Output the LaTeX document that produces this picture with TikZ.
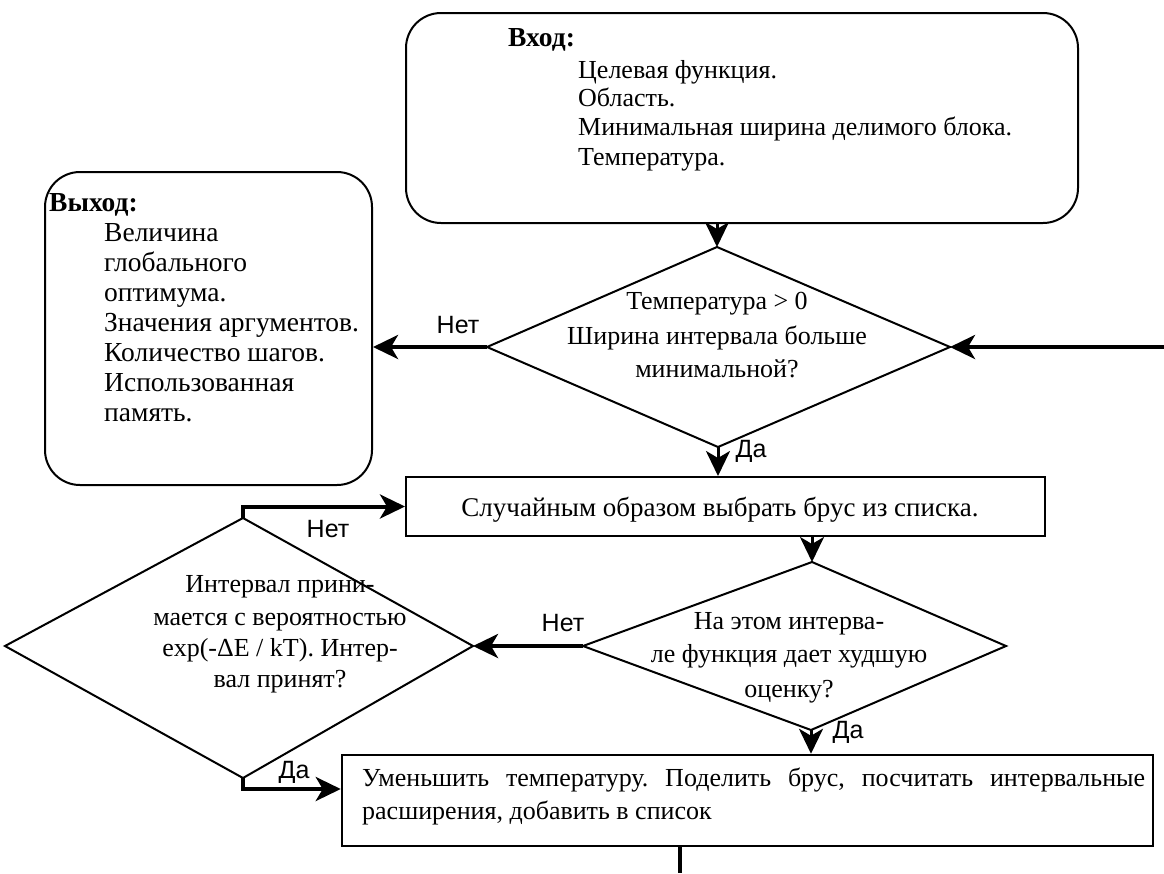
\documentclass[tikz,border=0pt]{standalone}
\usepackage{fontspec}
\setmainfont{Liberation Serif}
\newfontfamily\labfont{Liberation Sans}
\usetikzlibrary{arrows.meta,calc}
\frenchspacing
\begin{document}
\begin{tikzpicture}[x=1pt,y=-1pt,
  shapeline/.style={draw=black,line width=2pt},
  rbox/.style={shapeline,rounded corners=#1,inner sep=0pt},
  sbox/.style={shapeline,inner sep=0pt},
  txt/.style={font=\fontsize{26}{30}\selectfont,inner sep=0pt},
  otxt/.style={font=\fontsize{27.5}{30}\selectfont,inner sep=0pt,anchor=base west},
  lab/.style={font=\labfont\fontsize{25}{30}\selectfont,inner sep=0pt,anchor=base},
  arr/.style={line width=3pt,-{Stealth[length=25pt,width=24pt,inset=7pt]}},
  tarr/.style={line width=4pt,-{Stealth[length=25pt,width=24pt,inset=7pt]}},
]
\useasboundingbox (0,0) rectangle (1164,873);

% boxes
\node[rbox=35pt, minimum width=672pt, minimum height=210pt] (in) at (742,118) {};
\node[rbox=35pt, minimum width=327pt, minimum height=313pt] (out) at (208.5,328.5) {};
\node[sbox, minimum width=639pt, minimum height=59pt] (b2) at (725.5,506.5) {};
\node[sbox, line width=2.5pt, minimum width=811pt, minimum height=91pt] (b3) at (747.5,800.5) {};

% diamonds
\coordinate (d1t) at (717,247);
\coordinate (d1r) at (950,347);
\coordinate (d1b) at (718,447);
\coordinate (d1l) at (487,347);
\draw[shapeline] (d1t) -- (d1r) -- (d1b) -- (d1l) -- cycle;
\coordinate (d2t) at (812,562);
\coordinate (d2r) at (1006,646);
\coordinate (d2b) at (811,730);
\coordinate (d2l) at (583,646);
\draw[shapeline] (d2t) -- (d2r) -- (d2b) -- (d2l) -- cycle;
\coordinate (d3t) at (243,518);
\coordinate (d3r) at (473,646);
\coordinate (d3b) at (243,778);
\coordinate (d3l) at (5,646);
\draw[shapeline] (d3t) -- (d3r) -- (d3b) -- (d3l) -- cycle;

% texts: input
\node[txt, anchor=base west, font=\fontsize{27.5}{30}\selectfont] (inh) at (508,46) {\textbf{Вход:}};
\node[txt, anchor=base west] (in1) at (578,78) {Целевая функция.};
\node[txt, anchor=base west] (in2) at (578,106) {Область.};
\node[txt, anchor=base west] (in3) at (578,135) {Минимальная ширина делимого блока.};
\node[txt, anchor=base west] (in4) at (578,165) {Температура.};
% output
\node[otxt] (outh) at (49,211) {\textbf{Выход:}};
\node[otxt] (out1) at (104,241) {Величина};
\node[otxt] (out2) at (104,271) {глобального};
\node[otxt] (out3) at (104,301) {оптимума.};
\node[otxt] (out4) at (104,331) {Значения аргументов.};
\node[otxt] (out5) at (104,361) {Количество шагов.};
\node[otxt] (out6) at (104,391) {Использованная};
\node[otxt] (out7) at (104,421) {память.};
% diamond 1
\node[txt, anchor=base] (t11) at (717,309) {Температура > 0};
\node[txt, anchor=base] (t12) at (717,344) {Ширина интервала больше};
\node[txt, anchor=base] (t13) at (717,377) {минимальной?};
% box 2
\node[txt, anchor=base, font=\fontsize{27}{30}\selectfont] (t2) at (720,516) {Случайным образом выбрать брус из списка.};
% diamond 2
\node[txt, anchor=base] (t21) at (789,629) {На этом интерва-};
\node[txt, anchor=base] (t22) at (789,662) {ле функция дает худшую};
\node[txt, anchor=base] (t23) at (789,697) {оценку?};
% diamond 3
\node[txt, anchor=base] (t31) at (280,592) {Интервал прини-};
\node[txt, anchor=base] (t32) at (280,625) {мается с вероятностью};
\node[txt, anchor=base] (t33) at (280,656) {exp(-ΔE / kT). Интер-};
\node[txt, anchor=base] (t34) at (280,687) {вал принят?};
% box 3
\node[txt, anchor=base west] (t41) at (362,786) {\makebox[783pt][s]{Уменьшить температуру. Поделить брус, посчитать интервальные}};
\node[txt, anchor=base west] (t42) at (362,819) {расширения, добавить в список};

% connectors
\coordinate (rin) at (1164,347);
\coordinate (bend) at (680,873);
\draw[arr] (in.south -| d1t) -- (d1t);
\draw[tarr] (d1l) -- (d1l -| out.east);
\draw[tarr] (rin) -- (d1r);
\draw[arr] (d1b) -- (d1b |- b2.north);
\draw[arr] (b2.south -| d2t) -- (d2t);
\draw[tarr] (d2l) -- (d3r);
\draw[tarr] (d3t) -- (d3t |- b2.west) -- (b2.west);
\draw[tarr] (d3b) -- ++(0,11) coordinate (d3s) -- (d3s -| b3.west);
\draw[arr] (d2b) -- (d2b |- b3.north);
\draw[line width=4pt] (bend |- b3.south) -- (bend);

% labels
\node[lab] (l1) at (458,333) {Нет};
\node[lab] (l2) at (751,457) {Да};
\node[lab] (l3) at (328,537) {Нет};
\node[lab] (l4) at (563,631) {Нет};
\node[lab] (l5) at (294,778) {Да};
\node[lab] (l6) at (848,738) {Да};
\end{tikzpicture}
\end{document}
